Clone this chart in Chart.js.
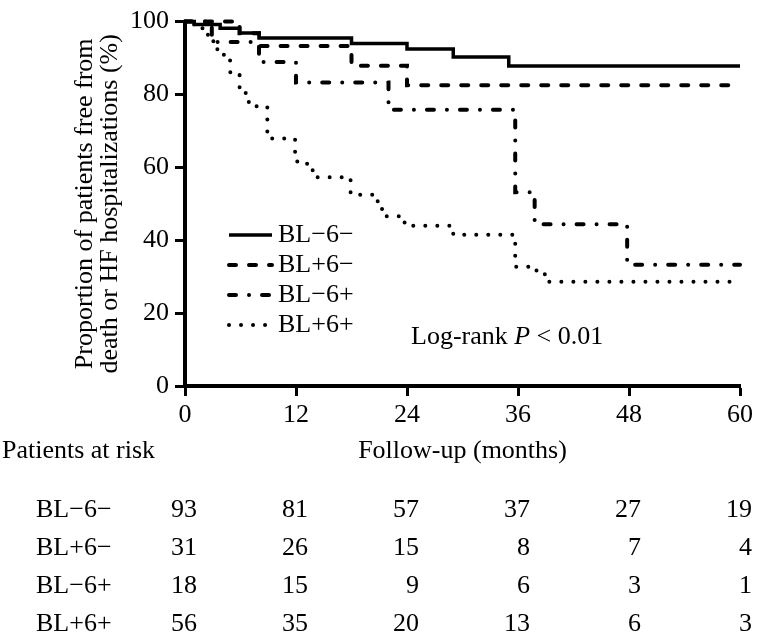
<!DOCTYPE html>
<html>
<head>
<meta charset="utf-8">
<script src="https://cdn.jsdelivr.net/npm/chart.js@4.4.1/dist/chart.umd.min.js"></script>
<style>
  html, body { margin: 0; padding: 0; background: #fff; }
  #wrap { width: 763px; height: 644px; }
</style>
</head>
<body>
<div id="wrap"><canvas id="km"></canvas></div>
<script>
// month of each step and the proportion (%) left after it
const monthsA = [0, 1, 3.8, 5.9, 8, 18, 24, 29, 35, 60];                 // BL−6−
const survA   = [100, 99.2, 98.2, 96.9, 95.5, 94, 92.5, 90.3, 87.8, 87.8];
const monthsB = [0, 5.9, 8, 18, 24, 60];                                   // BL+6−
const survB   = [100, 96.8, 93.3, 87.9, 82.5, 82.5];
const monthsC = [0, 2.9, 8, 12, 22, 35.7, 37.8, 47.8, 60];                 // BL−6+
const survC   = [100, 94.4, 88.9, 83.3, 75.8, 53.2, 44.4, 33.3, 33.3];
const monthsD = [0, 1, 2, 2.9, 3.5, 4.2, 4.9, 5.9, 6.9, 8.9, 11.9, 13.2, 13.8, 17.9, 20.8, 21.3, 23.5, 24, 29, 35.7, 38, 38.9, 60]; // BL+6+
const survD   = [100, 98.2, 96.4, 94.6, 91.1, 89.3, 85.7, 80.4, 76.8, 67.9, 61.6, 59.8, 57.3, 52.5, 50.7, 46.6, 44.9, 44, 41.5, 32.7, 31.4, 28.6, 28.6];

const groupNames = ['BL\u22126\u2212', 'BL+6\u2212', 'BL\u22126+', 'BL+6+'];

// patients at risk
const riskMonths = [0, 12, 24, 36, 48, 60];
const riskA = [93, 81, 57, 37, 27, 19];
const riskB = [31, 26, 15, 8, 7, 4];
const riskC = [18, 15, 9, 6, 3, 1];
const riskD = [56, 35, 20, 13, 6, 3];

const yTitle = ['Proportion of patients free from', 'death or HF hospitalizations (%)'];
const xTitle = 'Follow-up (months)';

const FONT = '"Liberation Serif", "Times New Roman", serif';

function pts(ms, ss) {
    return ms.map((m, i) => ({ x: m, y: ss[i] }));
}

function curve(label, ms, ss, dash) {
    return {
        label: label,
        data: pts(ms, ss),
        borderColor: '#000',
        borderWidth: dash.length ? 4 : 3.5,
        borderDash: dash,
        borderCapStyle: dash.length ? 'round' : 'butt',
        borderJoinStyle: 'miter',
        stepped: 'before',
        pointRadius: 0,
        fill: false,
        clip: false
    };
}

const extras = {
    id: 'extras',
    afterDraw(chart) {
        const ctx = chart.ctx;
        const xs = chart.scales.x;
        const area = chart.chartArea;
        ctx.save();
        ctx.fillStyle = '#000';
        ctx.font = '26px ' + FONT;
        ctx.textBaseline = 'middle';

        // y axis title, two lines
        ctx.save();
        ctx.translate(85, (area.top + area.bottom) / 2);
        ctx.rotate(-Math.PI / 2);
        ctx.textAlign = 'center';
        ctx.fillText(yTitle[0], 0, 0);
        ctx.fillText(yTitle[1], 0, 25);
        ctx.restore();

        // x axis title
        ctx.textAlign = 'center';
        ctx.fillText(xTitle, (area.left + area.right) / 2, 451);

        // at risk table
        ctx.textAlign = 'left';
        ctx.fillText('Patients at risk', 2, 451);
        const rows = [riskA, riskB, riskC, riskD];
        const rowY = [510, 548, 586, 624];
        rows.forEach((row, r) => {
            ctx.textAlign = 'left';
            ctx.fillText(groupNames[r], 36, rowY[r]);
            ctx.textAlign = 'right';
            row.forEach((n, i) => {
                ctx.fillText(String(n), xs.getPixelForValue(riskMonths[i]) + 12, rowY[r]);
            });
        });

        // legend
        const legY = [235, 265, 295, 325];
        chart.data.datasets.forEach((ds, i) => {
            ctx.save();
            ctx.strokeStyle = ds.borderColor;
            ctx.lineWidth = ds.borderWidth;
            ctx.setLineDash(ds.borderDash);
            ctx.lineCap = ds.borderCapStyle;
            ctx.beginPath();
            ctx.moveTo(229, legY[i]);
            ctx.lineTo(272, legY[i]);
            ctx.stroke();
            ctx.restore();
            ctx.textAlign = 'left';
            ctx.fillText(ds.label, 278, legY[i]);
        });

        // log-rank note
        let x = 411;
        const y = 337;
        ctx.textAlign = 'left';
        ctx.fillText('Log-rank ', x, y);
        x += ctx.measureText('Log-rank ').width;
        ctx.font = 'italic 26px ' + FONT;
        ctx.fillText('P', x, y);
        x += ctx.measureText('P').width;
        ctx.font = '26px ' + FONT;
        ctx.fillText(' < 0.01', x, y);
        ctx.restore();
    }
};

new Chart(document.getElementById('km'), {
    type: 'line',
    data: {
        datasets: [
            curve(groupNames[0], monthsA, survA, []),
            curve(groupNames[1], monthsB, survB, [7, 13]),
            curve(groupNames[2], monthsC, survC, [7, 13, 0.01, 13]),
            curve(groupNames[3], monthsD, survD, [0.01, 12])
        ]
    },
    options: {
        responsive: true,
        maintainAspectRatio: false,
        animation: false,
        layout: { padding: { left: 0, right: 23, top: 17, bottom: 0 } },
        plugins: {
            legend: { display: false },
            tooltip: { enabled: false }
        },
        scales: {
            x: {
                type: 'linear',
                min: 0,
                max: 60,
                ticks: { stepSize: 12, color: '#000', padding: 4, maxRotation: 0, font: { family: FONT, size: 26 } },
                grid: { drawOnChartArea: false, tickLength: 10, tickWidth: 3, tickColor: '#000' },
                border: { color: '#000', width: 4 },
                afterFit(s) { s.height = 644 - 386; }
            },
            y: {
                type: 'linear',
                min: 0,
                max: 100,
                ticks: { stepSize: 20, color: '#000', padding: 6, font: { family: FONT, size: 26 } },
                grid: { drawOnChartArea: false, tickLength: 10, tickWidth: 3, tickColor: '#000' },
                border: { color: '#000', width: 4 },
                afterFit(s) { s.width = 185; }
            }
        }
    },
    plugins: [extras]
});
</script>
</body>
</html>
